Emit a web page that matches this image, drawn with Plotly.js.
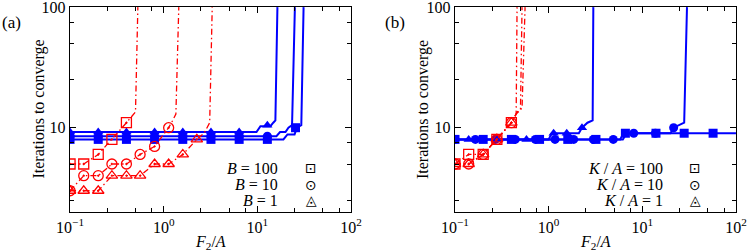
<!DOCTYPE html>
<html>
<head>
<meta charset="utf-8">
<script src="https://cdn.plot.ly/plotly-3.0.1.min.js"></script>
<style>html,body{margin:0;padding:0;background:#fff;}#chart{width:747px;height:252px;}</style>
</head>
<body>
<div id="chart"></div>
<script>
// ---------- tick labels ----------
const xTickVals = [0.1, 1, 10, 100];
const xTickText = ['10<sup>\u22121</sup>', '10<sup>0</sup>', '10<sup>1</sup>', '10<sup>2</sup>'];
const xMinorVals = [0.25, 0.5, 0.75, 2.5, 5, 7.5, 25, 50, 75];
const yTickVals = [10, 100];
const yTickText = ['10', '100'];
const yMinorVals = [2.5, 5, 7.5, 25, 50, 75];

// ---------- panel (a): red (dash-dot) series ----------
const aRedSqX = [0.1, 0.14, 0.2, 0.28, 0.4];
const aRedSqY = [5, 5, 6, 8, 11];
const aRedSqTailX = [0.46, 0.5, 0.53];
const aRedSqTailY = [12.5, 13.5, 100];

const aRedCiX = [0.1, 0.14, 0.2, 0.28, 0.4, 0.56, 0.8, 1.13];
const aRedCiY = [3, 4, 4, 5, 5, 6, 7, 10];
const aRedCiTailX = [1.25, 1.35, 1.45];
const aRedCiTailY = [11.5, 13, 100];

const aRedTrX = [0.1, 0.14, 0.2, 0.28, 0.4, 0.56, 0.8, 1.13, 1.6, 2.26];
const aRedTrY = [3, 3, 3, 4, 4, 4, 5, 5, 6, 8];
const aRedTrTailX = [2.7, 3.1, 3.3];
const aRedTrTailY = [9, 11, 100];

// ---------- panel (a): blue (solid) series ----------
const aBlueSqX = [0.1, 0.2, 0.4, 0.8, 1.6, 3.2, 6.4, 12.8, 25.6];
const aBlueSqY = [8, 8, 8, 8, 8, 8, 8, 8, 10];
const aBlueSqLineX = [0.1, 19, 21, 25, 26.5, 29.5, 31.2];
const aBlueSqLineY = [8, 8, 8.8, 8.8, 10, 10.5, 100];

const aBlueCiX = [0.1, 0.2, 0.4, 0.8, 1.6, 3.2, 6.4, 12.8];
const aBlueCiY = [8.5, 8.5, 8.5, 8.5, 8.5, 8.5, 8.5, 8.5];
const aBlueCiLineX = [0.1, 16, 17.5, 20, 21.5, 23.5, 25.2];
const aBlueCiLineY = [8.5, 8.5, 9.2, 9.2, 10, 10.5, 100];

const aBlueTrX = [0.1, 0.2, 0.4, 0.8, 1.6, 3.2, 6.4, 12.8];
const aBlueTrY = [9.2, 9.2, 9.2, 9.2, 9.2, 9.2, 9.2, 10.5];
const aBlueTrLineX = [0.1, 9.8, 10.8, 13.8, 14.8, 15.6, 16.4];
const aBlueTrLineY = [9.2, 9.2, 10.3, 10.3, 11, 11.5, 100];

// ---------- panel (b): red (dash-dot) series ----------
const bRedX = [0.1, 0.14, 0.2, 0.28, 0.4];
const bRedSqY = [5, 6, 6, 8, 11];
const bRedSqTailX = [0.43, 0.45, 0.46];
const bRedSqTailY = [12, 13, 100];
const bRedCiY = [5, 5, 6, 8, 11];
const bRedCiTailX = [0.45, 0.5, 0.52];
const bRedCiTailY = [13, 14, 100];
const bRedTrY = [5, 5, 6, 8, 11];
const bRedTrTailX = [0.46, 0.52, 0.56];
const bRedTrTailY = [13.5, 14.5, 100];

// ---------- panel (b): blue (solid) series ----------
const bBlueSqX = [0.1, 0.2, 0.4, 0.8, 1.6, 3.2, 6.6, 14, 28, 57];
const bBlueSqY = [8, 8, 8, 8, 8, 8, 9, 9, 9, 9];
const bBlueSqLineX = [0.1, 5.8, 6.3, 100];
const bBlueSqLineY = [8, 8, 9, 9];

const bBlueCiX = [0.1, 0.165, 0.27, 0.44, 0.72, 1.17, 1.85, 3.0, 4.9, 8.1, 13.8, 21.6];
const bBlueCiY = [8, 8, 8, 8, 8, 8, 8, 8, 8, 9, 9, 10];
const bBlueCiLineX = [0.1, 6.2, 6.8, 20, 21.6, 25, 28, 30];
const bBlueCiLineY = [8, 8, 9, 9, 10, 10.5, 11, 100];

const bBlueTrX = [0.14, 0.29, 0.58, 1.13, 1.56, 2.27];
const bBlueTrY = [8, 8, 8, 9, 9, 10];
const bBlueTrLineX = [0.1, 1.0, 1.08, 2.1, 2.27, 2.6, 2.95, 3.0];
const bBlueTrLineY = [8, 8, 9, 9, 10, 11, 11.5, 100];

// ---------- legend texts ----------
const legendA = ['<i>B</i> = 100', '<i>B</i> = 10', '<i>B</i> = 1'];
const legendB = ['<i>K</i> / <i>A</i> = 100', '<i>K</i> / <i>A</i> = 10', '<i>K</i> / <i>A</i> = 1'];
const legendGlyphs = ['\u22A1', '\u2299', '\u25EC'];

// ---------- styling ----------
const RED = '#ff0000';
const BLUE = '#0000ff';
const SERIF = 'Liberation Serif';
const redDash = '6px,3px,1.5px,3px';

function redLine(x, y, xa, ya) {
  return {x: x, y: y, xaxis: xa, yaxis: ya, mode: 'lines', showlegend: false, hoverinfo: 'skip',
          line: {color: RED, width: 1.3, dash: redDash}};
}
function redMarks(x, y, sym, xa, ya) {
  return {x: x, y: y, xaxis: xa, yaxis: ya, mode: 'markers', showlegend: false,
          marker: {symbol: sym + '-open-dot', size: 10, color: RED, line: {color: RED, width: 1.3}}};
}
function blueLine(x, y, xa, ya) {
  return {x: x, y: y, xaxis: xa, yaxis: ya, mode: 'lines', showlegend: false, hoverinfo: 'skip',
          line: {color: BLUE, width: 2}};
}
function blueMarks(x, y, sym, xa, ya) {
  return {x: x, y: y, xaxis: xa, yaxis: ya, mode: 'markers', showlegend: false,
          marker: {symbol: sym, size: 9, color: BLUE, line: {width: 0}}};
}

const traces = [
  blueLine(aBlueSqLineX, aBlueSqLineY, 'x', 'y'),
  blueLine(aBlueCiLineX, aBlueCiLineY, 'x', 'y'),
  blueLine(aBlueTrLineX, aBlueTrLineY, 'x', 'y'),
  blueMarks(aBlueSqX, aBlueSqY, 'square', 'x', 'y'),
  blueMarks(aBlueCiX, aBlueCiY, 'circle', 'x', 'y'),
  blueMarks(aBlueTrX, aBlueTrY, 'triangle-up', 'x', 'y'),
  redLine(aRedSqX.concat(aRedSqTailX), aRedSqY.concat(aRedSqTailY), 'x', 'y'),
  redLine(aRedCiX.concat(aRedCiTailX), aRedCiY.concat(aRedCiTailY), 'x', 'y'),
  redLine(aRedTrX.concat(aRedTrTailX), aRedTrY.concat(aRedTrTailY), 'x', 'y'),
  redMarks(aRedSqX, aRedSqY, 'square', 'x', 'y'),
  redMarks(aRedCiX, aRedCiY, 'circle', 'x', 'y'),
  redMarks(aRedTrX, aRedTrY, 'triangle-up', 'x', 'y'),
  blueLine(bBlueSqLineX, bBlueSqLineY, 'x2', 'y2'),
  blueLine(bBlueCiLineX, bBlueCiLineY, 'x2', 'y2'),
  blueLine(bBlueTrLineX, bBlueTrLineY, 'x2', 'y2'),
  blueMarks(bBlueSqX, bBlueSqY, 'square', 'x2', 'y2'),
  blueMarks(bBlueCiX, bBlueCiY, 'circle', 'x2', 'y2'),
  blueMarks(bBlueTrX, bBlueTrY, 'triangle-up', 'x2', 'y2'),
  redLine(bRedX.concat(bRedSqTailX), bRedSqY.concat(bRedSqTailY), 'x2', 'y2'),
  redLine(bRedX.concat(bRedCiTailX), bRedCiY.concat(bRedCiTailY), 'x2', 'y2'),
  redLine(bRedX.concat(bRedTrTailX), bRedTrY.concat(bRedTrTailY), 'x2', 'y2'),
  redMarks(bRedX, bRedSqY, 'square', 'x2', 'y2'),
  redMarks(bRedX, bRedCiY, 'circle', 'x2', 'y2'),
  redMarks(bRedX, bRedTrY, 'triangle-up', 'x2', 'y2')
];

function xAxis(domain, anchor) {
  return {
    type: 'log', range: [-1.0005, 2.0005], domain: domain, anchor: anchor,
    showgrid: false, zeroline: false, showline: true, linecolor: '#000', linewidth: 1.3,
    mirror: 'allticks', ticks: 'inside', ticklen: 6, tickwidth: 1, tickcolor: '#000',
    tickmode: 'array', tickvals: xTickVals, ticktext: xTickText, ticklabeloverflow: 'allow',
    tickfont: {family: SERIF, size: 16, color: '#000'},
    minor: {tickmode: 'array', tickvals: xMinorVals, ticks: 'inside', ticklen: 4, tickcolor: '#000', showgrid: false}
  };
}
function yAxis(anchor) {
  return {
    type: 'log', range: [Math.log10(2), 2.001], domain: [0, 1], anchor: anchor,
    showgrid: false, zeroline: false, showline: true, linecolor: '#000', linewidth: 1.3,
    mirror: 'allticks', ticks: 'inside', ticklen: 6, tickwidth: 1, tickcolor: '#000',
    tickmode: 'array', tickvals: yTickVals, ticktext: yTickText, ticklabeloverflow: 'allow',
    tickfont: {family: SERIF, size: 16, color: '#000'},
    minor: {tickmode: 'array', tickvals: yMinorVals, ticks: 'inside', ticklen: 4, tickcolor: '#000', showgrid: false}
  };
}

const annFont = {family: SERIF, size: 16, color: '#000'};
const annotations = [
  {text: '(a)', xref: 'paper', yref: 'paper', x: -0.0875, y: 0.922, showarrow: false, xanchor: 'center', yanchor: 'middle', font: {family: SERIF, size: 17, color: '#000'}},
  {text: '(b)', xref: 'paper', yref: 'paper', x: 0.488, y: 0.922, showarrow: false, xanchor: 'center', yanchor: 'middle', font: {family: SERIF, size: 17, color: '#000'}},
  {text: 'Iterations to converge', xref: 'paper', yref: 'paper', x: -0.048, y: 0.5, textangle: -90, showarrow: false, xanchor: 'center', yanchor: 'middle', font: annFont},
  {text: 'Iterations to converge', xref: 'paper', yref: 'paper', x: 0.5293, y: 0.5, textangle: -90, showarrow: false, xanchor: 'center', yanchor: 'middle', font: annFont},
  {text: '<i>F</i><sub>2</sub>/<i>A</i>', xref: 'paper', yref: 'paper', x: 0.2109, y: -0.151, showarrow: false, xanchor: 'center', yanchor: 'middle', font: annFont},
  {text: '<i>F</i><sub>2</sub>/<i>A</i>', xref: 'paper', yref: 'paper', x: 0.789, y: -0.151, showarrow: false, xanchor: 'center', yanchor: 'middle', font: annFont}
];
const legRowsY = [0.213, 0.132, 0.0585];
legendA.forEach(function (t, i) {
  annotations.push({text: t, xref: 'paper', yref: 'paper', x: 0.3153, y: legRowsY[i], showarrow: false, xanchor: 'right', yanchor: 'middle', font: annFont});
  annotations.push({text: legendGlyphs[i], xref: 'paper', yref: 'paper', x: 0.3614, y: legRowsY[i], showarrow: false, xanchor: 'center', yanchor: 'middle', font: {family: 'DejaVu Sans', size: 14, color: '#000'}});
});
legendB.forEach(function (t, i) {
  annotations.push({text: t, xref: 'paper', yref: 'paper', x: 0.8934, y: legRowsY[i], showarrow: false, xanchor: 'right', yanchor: 'middle', font: annFont});
  annotations.push({text: legendGlyphs[i], xref: 'paper', yref: 'paper', x: 0.9384, y: legRowsY[i], showarrow: false, xanchor: 'center', yanchor: 'middle', font: {family: 'DejaVu Sans', size: 14, color: '#000'}});
});

const layout = {
  width: 747, height: 252,
  margin: {l: 70, r: 11, t: 7, b: 40, pad: 0},
  paper_bgcolor: '#fff', plot_bgcolor: '#fff',
  showlegend: false,
  xaxis: xAxis([0, 0.4219], 'y'),
  yaxis: yAxis('x'),
  xaxis2: xAxis([0.578, 1], 'y2'),
  yaxis2: yAxis('x2'),
  annotations: annotations
};

Plotly.newPlot('chart', traces, layout, {staticPlot: true, displayModeBar: false});
</script>
</body>
</html>
